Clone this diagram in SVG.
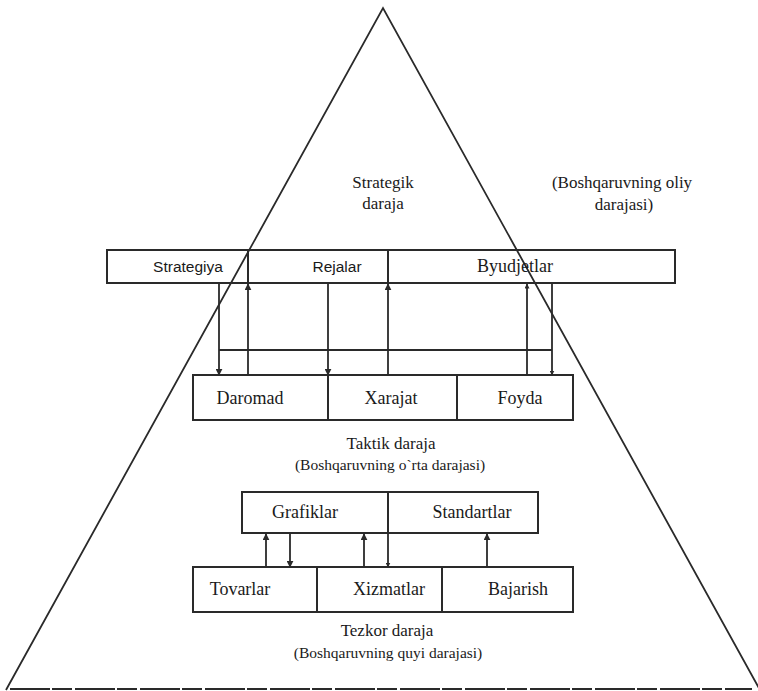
<svg xmlns="http://www.w3.org/2000/svg" width="758" height="691" viewBox="0 0 758 691">
<style>
.ln{stroke:#2a2a2a;stroke-width:1.8;fill:none}
.bx{stroke:#2a2a2a;stroke-width:2;fill:none}
.se{font-family:"Liberation Serif","Times New Roman",serif;fill:#1a1a1a;text-anchor:middle}
.sa{font-family:"Liberation Sans",Arial,sans-serif;fill:#1a1a1a;text-anchor:middle;font-size:15.5px}
.bt{font-size:18px}
.lb{font-size:17px}
.pl{font-size:15.5px}
</style>
<defs>
<marker id="ah" viewBox="0 0 10 10" refX="9" refY="5" markerWidth="7" markerHeight="7" orient="auto" markerUnits="userSpaceOnUse">
<path d="M0,0 L10,5 L0,10 z" fill="#2a2a2a"/>
</marker>
<marker id="ahs" viewBox="0 0 10 10" refX="9" refY="5" markerWidth="5" markerHeight="5" orient="auto" markerUnits="userSpaceOnUse">
<path d="M0,0 L10,5 L0,10 z" fill="#2a2a2a"/>
</marker>
</defs>
<rect width="758" height="691" fill="#ffffff"/>

<g id="pyramid">
<polyline class="ln" points="6,690 383,8 760,690"/>
<line class="ln" x1="10" y1="689" x2="752" y2="689" stroke="#555" stroke-dasharray="40,2,20,3"/>
</g>

<g id="strategic-label">
<text class="se lb" x="383" y="188">Strategik</text>
<text class="se lb" x="383" y="209">daraja</text>
<text class="se lb" x="622" y="188">(Boshqaruvning oliy</text>
<text class="se lb" x="624" y="210">darajasi)</text>
</g>

<g id="top-row">
<rect class="bx" x="107" y="250" width="568" height="33"/>
<line class="bx" x1="248" y1="250" x2="248" y2="283"/>
<line class="bx" x1="388" y1="250" x2="388" y2="283"/>
<g id="strategiya"><text class="sa" x="188" y="272">Strategiya</text></g>
<g id="rejalar"><text class="sa" x="337" y="272">Rejalar</text></g>
<g id="byudjetlar"><text class="se bt" x="515" y="272">Byudjetlar</text></g>
</g>

<g id="middle-row">
<rect class="bx" x="193" y="375" width="380" height="45"/>
<line class="bx" x1="328" y1="375" x2="328" y2="420"/>
<line class="bx" x1="457" y1="375" x2="457" y2="420"/>
<g id="daromad"><text class="se bt" x="250" y="404">Daromad</text></g>
<g id="xarajat"><text class="se bt" x="391" y="404">Xarajat</text></g>
<g id="foyda"><text class="se bt" x="520" y="404">Foyda</text></g>
</g>

<g id="tactical-label">
<text class="se lb" x="391" y="449">Taktik daraja</text>
<text class="se pl" x="390" y="470">(Boshqaruvning o`rta darajasi)</text>
</g>

<g id="lower-top-row">
<rect class="bx" x="242" y="492" width="296" height="41"/>
<line class="bx" x1="388" y1="492" x2="388" y2="533"/>
<g id="grafiklar"><text class="se bt" x="305" y="518">Grafiklar</text></g>
<g id="standartlar"><text class="se bt" x="472" y="518">Standartlar</text></g>
</g>

<g id="bottom-row">
<rect class="bx" x="193" y="567" width="380" height="45"/>
<line class="bx" x1="317" y1="567" x2="317" y2="612"/>
<line class="bx" x1="442" y1="567" x2="442" y2="612"/>
<g id="tovarlar"><text class="se bt" x="240" y="595">Tovarlar</text></g>
<g id="xizmatlar"><text class="se bt" x="389" y="595">Xizmatlar</text></g>
<g id="bajarish"><text class="se bt" x="518" y="595">Bajarish</text></g>
</g>

<g id="operational-label">
<text class="se lb" x="387" y="636">Tezkor daraja</text>
<text class="se pl" x="388" y="658">(Boshqaruvning quyi darajasi)</text>
</g>

<g id="connectors">
<line class="ln" x1="219" y1="350" x2="552" y2="350"/>
<line class="ln" x1="219" y1="283" x2="219" y2="375" marker-end="url(#ah)"/>
<line class="ln" x1="248" y1="375" x2="248" y2="284" marker-end="url(#ah)"/>
<line class="ln" x1="328" y1="283" x2="328" y2="375" marker-end="url(#ah)"/>
<line class="ln" x1="388" y1="375" x2="388" y2="284" marker-end="url(#ah)"/>
<line class="ln" x1="527" y1="375" x2="527" y2="284" marker-end="url(#ahs)"/>
<line class="ln" x1="552" y1="284" x2="552" y2="375" marker-end="url(#ahs)"/>

<line class="ln" x1="266" y1="567" x2="266" y2="534" marker-end="url(#ah)"/>
<line class="ln" x1="290" y1="533" x2="290" y2="567" marker-end="url(#ah)"/>
<line class="ln" x1="364" y1="567" x2="364" y2="534" marker-end="url(#ah)"/>
<line class="ln" x1="388" y1="533" x2="388" y2="567" marker-end="url(#ahs)"/>
<line class="ln" x1="487" y1="567" x2="487" y2="534" marker-end="url(#ah)"/>
</g>
</svg>
